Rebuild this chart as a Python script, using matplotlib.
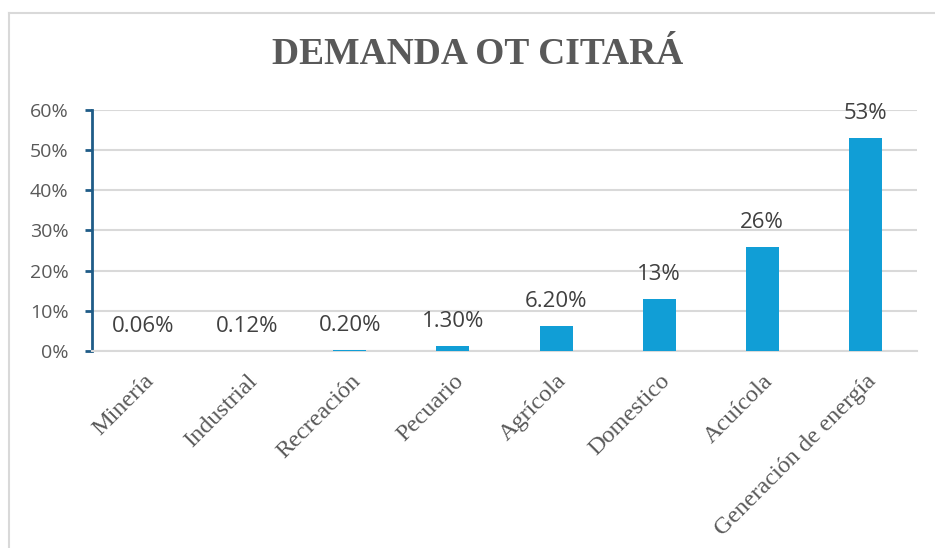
import matplotlib
matplotlib.use("Agg")
import matplotlib.pyplot as plt
from matplotlib.lines import Line2D

# -----------------------------------------------------------------------------
# Data
# -----------------------------------------------------------------------------
categories = ["Minería", "Industrial", "Recreación", "Pecuario", "Agrícola",
              "Domestico", "Acuícola", "Generación de energía"]
values = [0.0006, 0.0012, 0.0020, 0.013, 0.062, 0.13, 0.26, 0.53]
value_labels = ["0.06%", "0.12%", "0.20%", "1.30%", "6.20%", "13%", "26%", "53%"]
yticks = [0, 0.1, 0.2, 0.3, 0.4, 0.5, 0.6]
ytick_labels = ["0%", "10%", "20%", "30%", "40%", "50%", "60%"]

# -----------------------------------------------------------------------------
# Plot
# -----------------------------------------------------------------------------
fig = plt.figure(figsize=(9.35, 5.48), dpi=100)
ax = fig.add_axes([0.0984, 0.3595, 0.8823, 0.4398])

x = range(len(categories))
bars = ax.bar(x, values, width=0.32, color="#119ED6", zorder=3)

ax.set_xlim(-0.5, len(categories) - 0.5)
ax.set_ylim(0, 0.6)
ax.set_yticks(yticks)
ax.set_yticklabels(ytick_labels, family="Open Sans", fontsize=14, color="#595959")
ax.set_xticks(list(x))
ax.set_xticklabels(categories, family="Liberation Serif", fontsize=17.5, color="#595959",
                   rotation=45, ha="right", rotation_mode="anchor")

ax.grid(axis="y", color="#D9D9D9", linewidth=1.5, zorder=0)
for side in ["top", "right"]:
    ax.spines[side].set_visible(False)
ax.spines["bottom"].set_color("#D9D9D9")
ax.spines["bottom"].set_linewidth(1.5)
ax.spines["left"].set_color("#1F5C87")
ax.spines["left"].set_linewidth(2)
ax.tick_params(axis="y", direction="out", length=5, width=2, color="#1F5C87", pad=12)
ax.tick_params(axis="x", length=0, pad=14)

for b, lab in zip(bars, value_labels):
    ax.annotate(lab, (b.get_x() + b.get_width() / 2, b.get_height()),
                xytext=(0, 10), textcoords="offset points", ha="center", va="bottom",
                family="Open Sans", fontsize=16, color="#404040")

fig.text(0.511, 0.90, "DEMANDA OT CITARÁ", ha="center", va="center",
         family="Liberation Serif", fontweight="bold", fontsize=27, color="#595959")

# chart frame (left and top edges visible)
fig.add_artist(Line2D([9 / 935, 9 / 935], [0, 1 - 13 / 548], transform=fig.transFigure,
                      color="#D9D9D9", linewidth=1.5))
fig.add_artist(Line2D([9 / 935, 1], [1 - 13 / 548, 1 - 13 / 548], transform=fig.transFigure,
                      color="#D9D9D9", linewidth=1.5))

fig.savefig("out.png", dpi=100)
